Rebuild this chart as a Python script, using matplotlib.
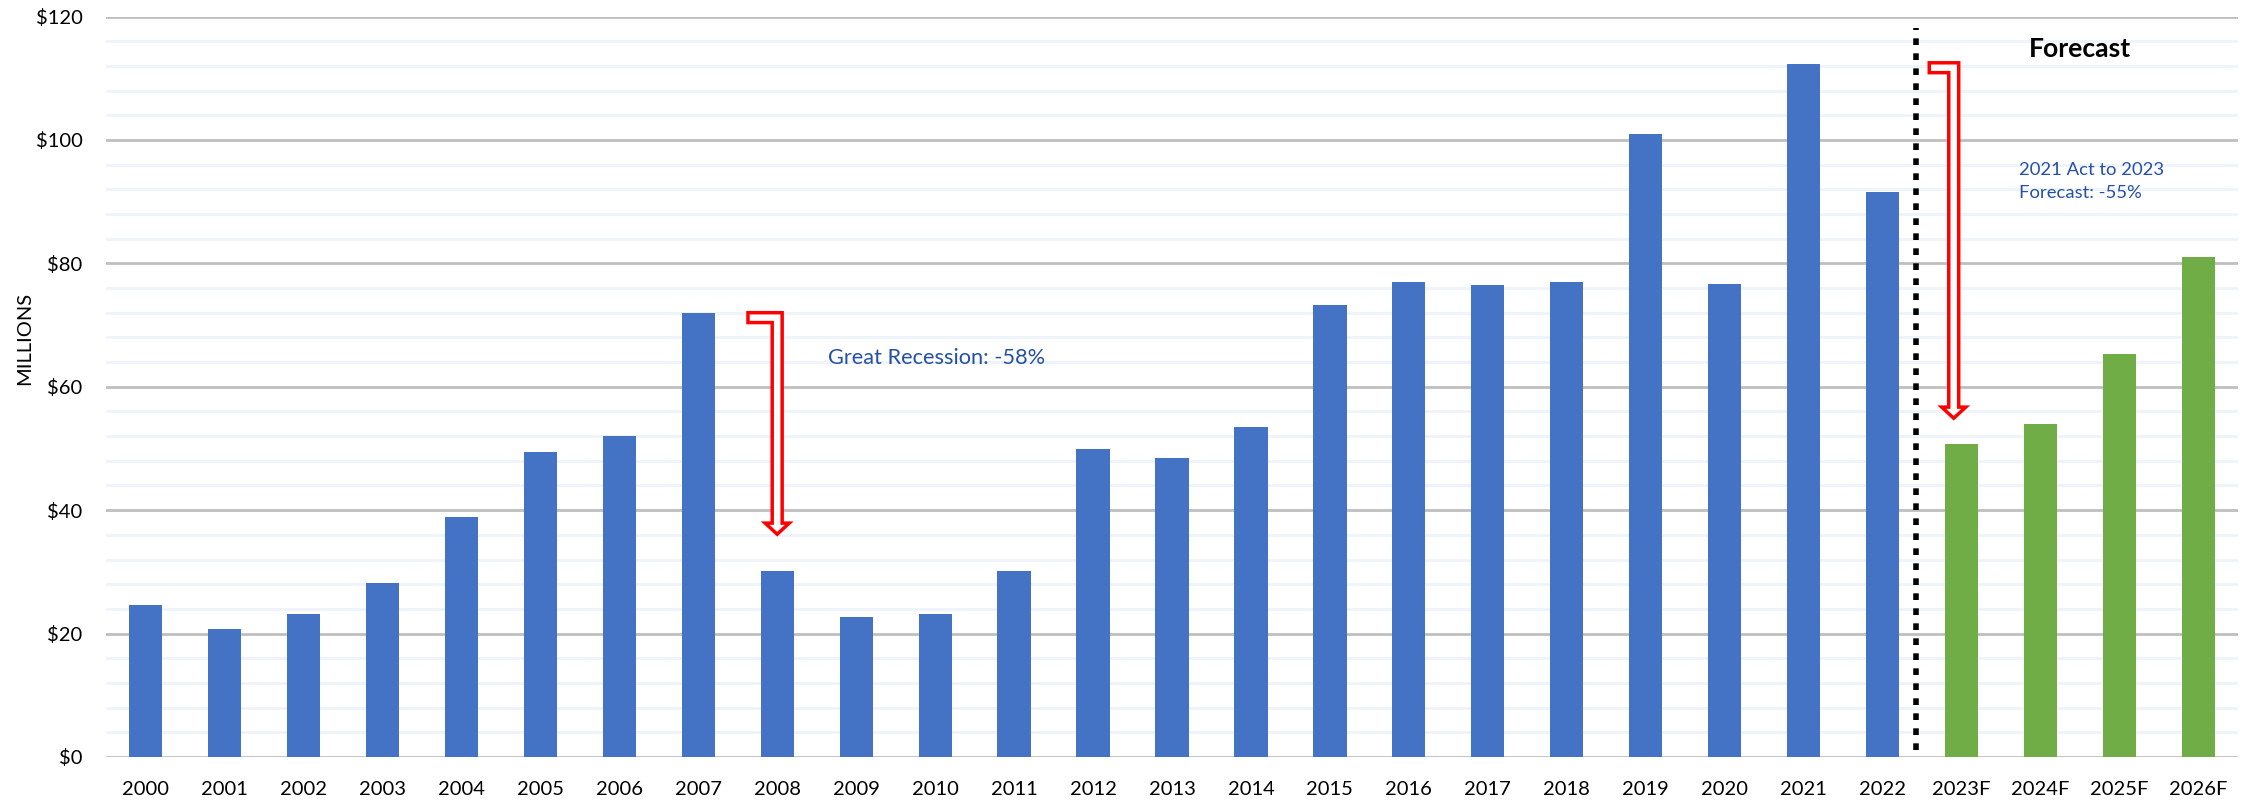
import matplotlib
matplotlib.use("Agg")
import matplotlib.pyplot as plt
from matplotlib.patches import Polygon
from matplotlib.ticker import MultipleLocator, FuncFormatter

plt.rcParams['font.family'] = ['Lato', 'DejaVu Sans']

years = ["2000", "2001", "2002", "2003", "2004", "2005", "2006", "2007", "2008",
         "2009", "2010", "2011", "2012", "2013", "2014", "2015", "2016", "2017",
         "2018", "2019", "2020", "2021", "2022"]
actual = [24.7, 20.7, 23.1, 28.2, 38.9, 49.4, 52.0, 72.0, 30.2, 22.7, 23.1, 30.1,
          49.9, 48.4, 53.4, 73.2, 76.9, 76.5, 77.0, 101.0, 76.7, 112.3, 91.5]
forecast_years = ["2023F", "2024F", "2025F", "2026F"]
forecast = [50.7, 53.9, 65.3, 81.1]

BLUE = "#4472C4"
GREEN = "#70AD47"
TXT_BLUE = "#2450A8"

W, H = 2252, 801
fig = plt.figure(figsize=(W/100, H/100), dpi=100)
ax = fig.add_axes([106/W, 1-757/H, (2238-106)/W, (757-16.5)/H])

n_act = len(years)
xa = list(range(n_act))
xf = list(range(n_act, n_act + len(forecast)))
ax.bar(xa, actual, width=0.42, color=BLUE, zorder=3)
ax.bar(xf, forecast, width=0.42, color=GREEN, zorder=3)

ax.set_xlim(-0.5, n_act + len(forecast) - 0.5)
ax.set_ylim(0, 120)
ax.set_xticks(xa + xf)
ax.set_xticklabels(years + forecast_years)
ax.yaxis.set_major_locator(MultipleLocator(20))
ax.yaxis.set_minor_locator(MultipleLocator(4))
ax.yaxis.set_major_formatter(FuncFormatter(lambda v, p: f"${v:.0f}"))
ax.grid(axis='y', which='major', color="#BFBFBF", linewidth=2, zorder=1)
ax.grid(axis='y', which='minor', color="#EEF3FC", linewidth=2, zorder=0)
ax.tick_params(axis='both', which='both', length=0, labelsize=14.5, colors="#000000")
ax.tick_params(axis='y', pad=17)
ax.tick_params(axis='x', pad=17)
for s in ax.spines.values():
    s.set_visible(False)

ylab = fig.text(24.5/W, 1-338/H, "MILLIONS", rotation=90, ha='center', va='center',
                fontsize=14)

# dotted separator
ax.axvline(n_act - 0.58, ymin=0.01, ymax=0.985, color="black", linewidth=4,
           linestyle=(0, (1.2, 1.5)), zorder=4)


def bent_arrow(x_left, xc, y_top, y_tip):
    hw = 0.063      # half shaft width
    hh = 0.152      # half head width
    head_h = 1.8    # head height
    bar_t = 1.6     # top bar thickness
    pts = [(x_left, y_top), (xc + hw, y_top), (xc + hw, y_tip + head_h),
           (xc + hh, y_tip + head_h), (xc, y_tip), (xc - hh, y_tip + head_h),
           (xc - hw, y_tip + head_h), (xc - hw, y_top - bar_t), (x_left, y_top - bar_t)]
    ax.add_patch(Polygon(pts, closed=True, facecolor="white", edgecolor="#FF0000",
                         linewidth=2.5, zorder=5))


bent_arrow(7.63, 8.0, 72.0, 36.1)
bent_arrow(22.59, 22.9, 112.5, 54.9)

t1 = ax.text(8.64, 63.7, "Great Recession: -58%", color=TXT_BLUE, fontsize=14.5,
             va='baseline', ha='left', zorder=6)
t2a = ax.text(23.73, 94.3, "2021 Act to 2023", color=TXT_BLUE, fontsize=14.5,
              va='baseline', ha='left', zorder=6)
t2b = ax.text(23.73, 90.6, "Forecast: -55%", color=TXT_BLUE, fontsize=14.5,
              va='baseline', ha='left', zorder=6)
t3 = ax.text(24.5, 113.45, "Forecast", color="black", fontsize=17, fontweight='bold',
             va='baseline', ha='center', zorder=6)

# fit text sizes to the reference's measured pixel widths
renderer = fig.canvas.get_renderer()


def fit(t, target, dim='w'):
    for _ in range(2):
        bb = t.get_window_extent(renderer)
        cur = bb.width if dim == 'w' else bb.height
        t.set_fontsize(t.get_fontsize() * target / cur)


fit(t1, 216)
fit(t2a, 145)
t2b.set_fontsize(t2a.get_fontsize())
fit(t3, 102)
fit(ylab, 93, 'h')

fig.canvas.draw()
yl = [l for l in ax.get_yticklabels() if l.get_text() == "$120"][0]
ys = 14.5 * 47 / yl.get_window_extent(renderer).width
xl = ax.get_xticklabels()[0]
xs = 14.5 * 47 / xl.get_window_extent(renderer).width
ax.tick_params(axis='y', labelsize=ys)
ax.tick_params(axis='x', labelsize=xs)

fig.savefig("out.png", dpi=100)
